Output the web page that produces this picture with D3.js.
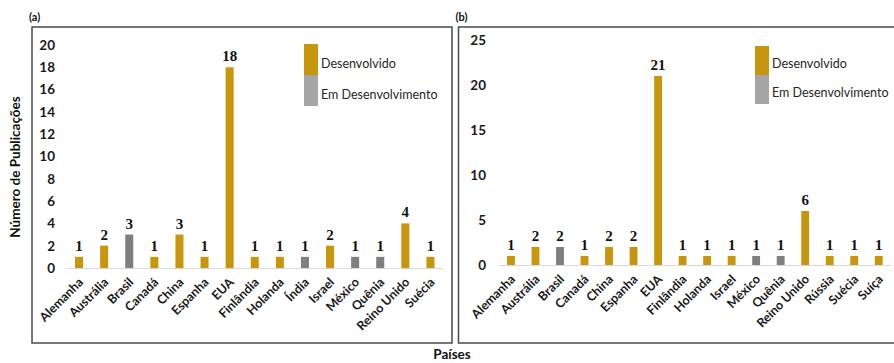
<!DOCTYPE html>
<html>
<head>
<meta charset="utf-8">
<script src="https://cdn.jsdelivr.net/npm/d3@7"></script>
<style>
  body { margin: 0; background: #fff; }
  svg { display: block; }
  .tick-label { font-family: Lato, sans-serif; font-weight: bold; font-size: 13.5px; fill: #1a1a1a; }
  .cat-label { font-family: Lato, sans-serif; font-weight: bold; font-size: 12.5px; fill: #1a1a1a; }
  .value-label { font-family: 'Liberation Serif', serif; font-weight: bold; font-size: 15px; fill: #111; }
  .legend-text { font-family: Lato, sans-serif; font-size: 12.5px; fill: #262626; }
  .panel-title { font-family: Lato, sans-serif; font-weight: bold; font-size: 11px; fill: #111; }
  .axis-title { font-family: Lato, sans-serif; font-weight: bold; font-size: 13.5px; fill: #111; }
</style>
</head>
<body>
<div id="wrapper"></div>
<script>
// panel (a)
const countriesA = ['Alemanha', 'Austrália', 'Brasil', 'Canadá', 'China', 'Espanha', 'EUA',
  'Finlândia', 'Holanda', 'Índia', 'Israel', 'México', 'Quênia', 'Reino Unido', 'Suécia'];
const valuesA = [1, 2, 3, 1, 3, 1, 18, 1, 1, 1, 2, 1, 1, 4, 1];
const groupsA = ['D', 'D', 'E', 'D', 'D', 'D', 'D', 'D', 'D', 'E', 'D', 'E', 'E', 'D', 'D'];
const ticksA = [0, 2, 4, 6, 8, 10, 12, 14, 16, 18, 20];

// panel (b)
const countriesB = ['Alemanha', 'Austrália', 'Brasil', 'Canadá', 'China', 'Espanha', 'EUA',
  'Finlândia', 'Holanda', 'Israel', 'México', 'Quênia', 'Reino Unido', 'Rússia', 'Suécia', 'Suíça'];
const valuesB = [1, 2, 2, 1, 2, 2, 21, 1, 1, 1, 1, 1, 6, 1, 1, 1];
const groupsB = ['D', 'D', 'E', 'D', 'D', 'D', 'D', 'D', 'D', 'D', 'E', 'E', 'D', 'D', 'D', 'D'];
const ticksB = [0, 5, 10, 15, 20, 25];

const legendLabels = ['Desenvolvido', 'Em Desenvolvimento'];
const barColor = { D: '#c8960c', E: '#7f7f7f' };
const legendColors = ['#c8960c', '#a6a6a6'];

const width = 894;
const height = 363;

const svg = d3.select('#wrapper')
  .append('svg')
  .attr('width', width)
  .attr('height', height);

function drawPanel(opts) {
  const g = svg.append('g');

  // frame
  g.append('rect')
    .attr('x', opts.box[0])
    .attr('y', opts.box[1])
    .attr('width', opts.box[2] - opts.box[0])
    .attr('height', opts.box[3] - opts.box[1])
    .attr('fill', 'none')
    .attr('stroke', '#4a4a4a')
    .attr('stroke-width', 1.5);

  g.append('text')
    .attr('class', 'panel-title')
    .attr('x', opts.box[0] - 3)
    .attr('y', opts.box[1] - 6)
    .text(opts.title);

  const x = d3.scaleBand()
    .domain(opts.countries)
    .range(opts.xRange)
    .paddingInner(0.68)
    .paddingOuter(0.34);

  const y = d3.scaleLinear()
    .domain([0, d3.max(opts.ticks)])
    .range(opts.yRange);

  // y tick labels
  g.selectAll('.tick-label')
    .data(opts.ticks)
    .join('text')
    .attr('class', 'tick-label')
    .attr('x', opts.tickX)
    .attr('y', (d) => y(d))
    .attr('dy', '0.36em')
    .attr('text-anchor', 'end')
    .text((d) => d);

  // baseline
  g.append('line')
    .attr('x1', opts.xRange[0])
    .attr('x2', opts.xRange[1])
    .attr('y1', y(0) + 0.5)
    .attr('y2', y(0) + 0.5)
    .attr('stroke', '#d9d9d9')
    .attr('stroke-width', 1);

  const data = opts.countries.map((c, i) => ({ country: c, value: opts.values[i], group: opts.groups[i] }));

  g.selectAll('.bar')
    .data(data)
    .join('rect')
    .attr('class', 'bar')
    .attr('x', (d) => x(d.country))
    .attr('width', x.bandwidth())
    .attr('y', (d) => y(d.value))
    .attr('height', (d) => y(0) - y(d.value))
    .attr('fill', (d) => barColor[d.group]);

  g.selectAll('.value-label')
    .data(data)
    .join('text')
    .attr('class', 'value-label')
    .attr('x', (d) => x(d.country) + x.bandwidth() / 2)
    .attr('y', (d) => y(d.value) - 6)
    .attr('text-anchor', 'middle')
    .text((d) => d.value);

  g.selectAll('.cat-label')
    .data(data)
    .join('text')
    .attr('class', 'cat-label')
    .attr('text-anchor', 'end')
    .attr('transform', (d) => {
      const cx = x(d.country) + x.bandwidth() / 2 + 5;
      const cy = y(0) + 15;
      return `translate(${cx},${cy}) rotate(-45)`;
    })
    .text((d) => d.country);

  // legend
  const legend = g.append('g');
  legendLabels.forEach((label, i) => {
    legend.append('rect')
      .attr('x', opts.legend[0])
      .attr('y', opts.legend[1] + i * opts.legend[2])
      .attr('width', 14)
      .attr('height', opts.legend[2])
      .attr('fill', legendColors[i]);
    legend.append('text')
      .attr('class', 'legend-text')
      .attr('x', opts.legend[0] + 17)
      .attr('y', opts.legend[1] + i * opts.legend[2] + opts.legend[2] * 0.62)
      .attr('dy', '0.35em')
      .text(label);
  });
}

drawPanel({
  title: '(a)',
  box: [32, 27, 452, 343],
  countries: countriesA,
  values: valuesA,
  groups: groupsA,
  ticks: ticksA,
  xRange: [66.5, 443],
  yRange: [268, 45],
  tickX: 55,
  legend: [304, 44, 31],
});

drawPanel({
  title: '(b)',
  box: [458.5, 27, 900, 343],
  countries: countriesB,
  values: valuesB,
  groups: groupsB,
  ticks: ticksB,
  xRange: [498.7, 891],
  yRange: [265, 40],
  tickX: 486,
  legend: [755, 46, 29],
});

// shared axis titles
svg.append('text')
  .attr('class', 'axis-title')
  .attr('text-anchor', 'middle')
  .attr('transform', 'translate(20,167) rotate(-90)')
  .text('Número de Publicações');

svg.append('text')
  .attr('class', 'axis-title')
  .attr('text-anchor', 'middle')
  .attr('x', 452)
  .attr('y', 359)
  .text('Países');
</script>
</body>
</html>
